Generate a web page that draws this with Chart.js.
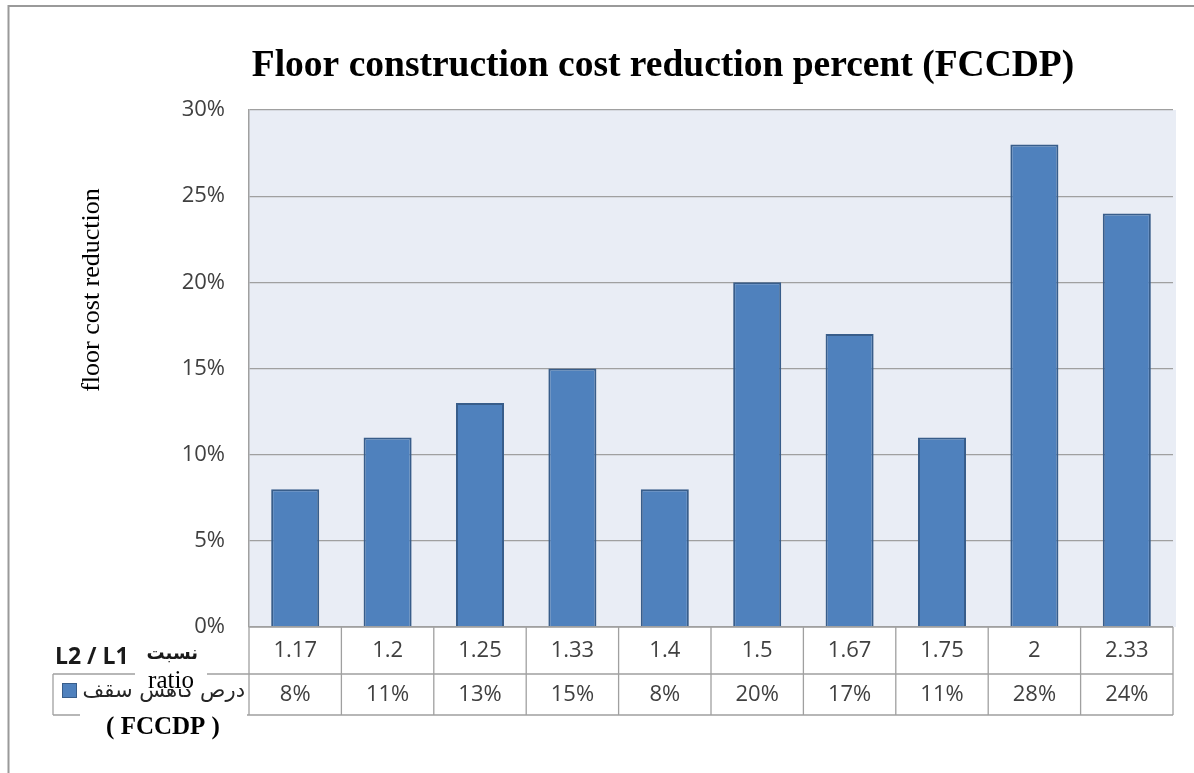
<!DOCTYPE html>
<html>
<head>
<meta charset="utf-8">
<script src="https://cdn.jsdelivr.net/npm/chart.js@4.4.1/dist/chart.umd.min.js"></script>
<style>
  html, body { margin: 0; padding: 0; background: #fff; }
</style>
</head>
<body>
<canvas id="fccdpChart" width="1194" height="773"></canvas>
<script>
// L2 / L1 span ratios and the matching floor cost reduction (%)
const ratios = ['1.17', '1.2', '1.25', '1.33', '1.4', '1.5', '1.67', '1.75', '2', '2.33'];
const reduction = [8, 11, 13, 15, 8, 20, 17, 11, 28, 24];
const yTicks = [0, 5, 10, 15, 20, 25, 30];

const seriesName = 'درص کاهش سقف';
const barFill = '#4F81BD';
const barEdge = '#385D8A';
const lineGrey = '#A0A0A0';
const textGrey = '#404040';
const tickFont = '22px "Open Sans"';

// plot background, page frame, data table and side labels
const decorations = {
    id: 'decorations',
    beforeDraw(chart) {
        const ctx = chart.ctx;
        const area = chart.chartArea;
        ctx.save();
        ctx.fillStyle = '#fff';
        ctx.fillRect(0, 0, chart.width, chart.height);
        // page frame
        ctx.strokeStyle = '#9a9a9a';
        ctx.lineWidth = 2;
        ctx.beginPath();
        ctx.moveTo(8.5, chart.height);
        ctx.lineTo(8.5, 6);
        ctx.lineTo(chart.width, 6);
        ctx.stroke();
        // plot area
        ctx.fillStyle = '#E9EDF5';
        ctx.fillRect(area.left, area.top, area.right - area.left + 3, area.bottom - area.top);
        ctx.restore();
    },
    afterDraw(chart) {
        const ctx = chart.ctx;
        const area = chart.chartArea;
        const xs = chart.scales.x;
        const n = ratios.length;
        const colW = (area.right - area.left) / n;
        const top = area.bottom;
        const mid = top + 47;
        const bot = top + 88;
        const labelLeft = 53;

        ctx.save();
        ctx.strokeStyle = lineGrey;
        ctx.lineWidth = 1.3;
        ctx.beginPath();
        // table rows
        ctx.moveTo(area.left, top); ctx.lineTo(area.right, top);
        ctx.moveTo(labelLeft, mid); ctx.lineTo(area.right, mid);
        ctx.moveTo(labelLeft, bot); ctx.lineTo(area.right, bot);
        ctx.moveTo(labelLeft, mid); ctx.lineTo(labelLeft, bot);
        // table columns
        for (let i = 0; i <= n; i++) {
            const x = area.left + i * colW;
            ctx.moveTo(x, top); ctx.lineTo(x, bot);
        }
        ctx.stroke();

        // cell values
        ctx.fillStyle = textGrey;
        ctx.font = tickFont;
        ctx.textAlign = 'center';
        ctx.textBaseline = 'middle';
        for (let i = 0; i < n; i++) {
            const cx = xs.getPixelForValue(i);
            ctx.fillText(ratios[i], cx, (top + mid) / 2);
            ctx.fillText(reduction[i] + '%', cx, (mid + bot) / 2);
        }

        // row 1 label
        ctx.fillStyle = '#1a1a1a';
        ctx.textAlign = 'left';
        ctx.font = 'bold 23px "Open Sans"';
        ctx.fillText('L2 / L1', 55, 657);
        ctx.textAlign = 'right';
        ctx.font = 'bold 18px "DejaVu Sans"';
        ctx.fillText('نسبت', 198, 654);

        // row 2 label: legend key and series name
        ctx.fillStyle = barFill;
        ctx.fillRect(62, 683, 15, 15);
        ctx.strokeStyle = barEdge;
        ctx.lineWidth = 1;
        ctx.strokeRect(62.5, 683.5, 14, 14);
        ctx.fillStyle = '#262626';
        ctx.font = '21px "DejaVu Sans"';
        ctx.textAlign = 'right';
        ctx.fillText(seriesName, 245, 692);

        // overlaid captions on white boxes
        ctx.fillStyle = '#fff';
        ctx.fillRect(135, 672, 72, 17);
        ctx.fillRect(80, 712, 167, 34);
        ctx.fillStyle = '#000';
        ctx.textAlign = 'center';
        ctx.font = '25px "Liberation Serif"';
        ctx.fillText('ratio', 171, 681);
        ctx.font = 'bold 25px "Liberation Serif"';
        ctx.fillText('( FCCDP )', 163, 728);

        // y axis caption
        ctx.translate(92, 290);
        ctx.rotate(-Math.PI / 2);
        ctx.font = '26px "Liberation Serif"';
        ctx.fillText('floor cost reduction', 0, 0);
        ctx.restore();
    }
};

const ctx = document.getElementById('fccdpChart').getContext('2d');
const fccdpChart = new Chart(ctx, {
    type: 'bar',
    data: {
        labels: ratios,
        datasets: [{
            label: seriesName,
            data: reduction,
            backgroundColor: barFill,
            borderColor: barEdge,
            borderWidth: 2,
            categoryPercentage: 1,
            barPercentage: 0.52
        }]
    },
    options: {
        responsive: false,
        animation: false,
        layout: {
            padding: { left: 153, right: 21, top: 0, bottom: 146 }
        },
        plugins: {
            legend: { display: false },
            tooltip: { enabled: false },
            title: {
                display: true,
                text: 'Floor construction cost reduction percent (FCCDP)',
                color: '#000',
                font: { family: 'Liberation Serif', size: 37.5, weight: 'bold' },
                padding: { top: 44, bottom: 21 }
            }
        },
        scales: {
            x: {
                display: false
            },
            y: {
                min: yTicks[0],
                max: yTicks[yTicks.length - 1],
                afterFit(scale) { scale.width = 96; },
                afterBuildTicks(scale) { scale.ticks = yTicks.map(v => ({ value: v })); },
                ticks: {
                    callback: v => v + '%',
                    color: textGrey,
                    font: { family: 'Open Sans', size: 22 },
                    padding: 24
                },
                grid: { color: lineGrey, lineWidth: 1.3, drawTicks: false },
                border: { color: lineGrey, width: 1.5 }
            }
        }
    },
    plugins: [decorations]
});
</script>
</body>
</html>
